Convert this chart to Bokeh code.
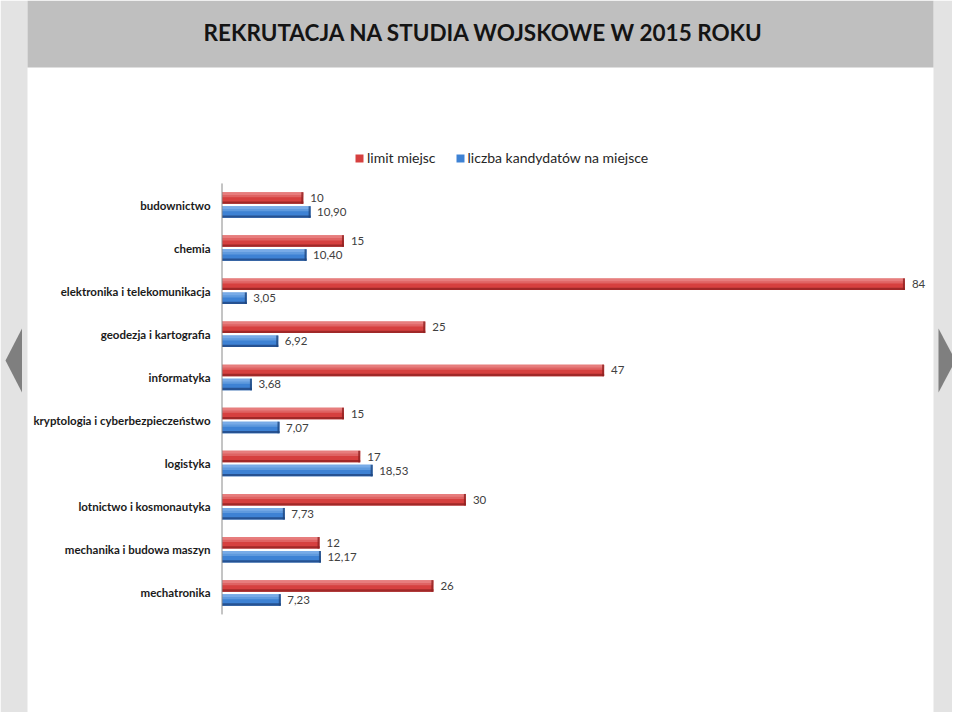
from bokeh.plotting import figure
from bokeh.models import (Range1d, ColumnDataSource, Label, BoxAnnotation,
                          PolyAnnotation, Legend, LegendItem)
from bokeh.core.properties import value
from bokeh.embed import file_html
from bokeh.resources import INLINE

# ---------------- data ----------------
title_text = "REKRUTACJA NA STUDIA WOJSKOWE W 2015 ROKU"
categories = [
    "budownictwo",
    "chemia",
    "elektronika i telekomunikacja",
    "geodezja i kartografia",
    "informatyka",
    "kryptologia i cyberbezpieczeństwo",
    "logistyka",
    "lotnictwo i kosmonautyka",
    "mechanika i budowa maszyn",
    "mechatronika",
]
series_names = ["limit miejsc", "liczba kandydatów na miejsce"]
limit_miejsc = [10, 15, 84, 25, 47, 15, 17, 30, 12, 26]
kandydaci = [10.90, 10.40, 3.05, 6.92, 3.68, 7.07, 18.53, 7.73, 12.17, 7.23]

# ---------------- geometry ----------------
W, H = 952, 712
OFF = 0               # page offset of the canvas
PXU_X = 8.13          # pixels per value unit
AXIS_PX = 221.5 - OFF # canvas x of value 0
PITCH = 43.1          # pixels per category
CAT0_PX = 204.5 - OFF # canvas y (from top) of first category centre

x_start = (0 - AXIS_PX) / PXU_X
x_end = (W - AXIS_PX) / PXU_X
y_start = (H - CAT0_PX) / PITCH      # bottom of canvas
y_end = (0 - CAT0_PX) / PITCH        # top of canvas (reversed axis)

p = figure(width=W, height=H, output_backend="svg", toolbar_location=None,
           x_range=Range1d(x_start, x_end), y_range=Range1d(y_start, y_end),
           x_axis_location=None, y_axis_location=None, min_border=0,
           outline_line_color=None, background_fill_color="white",
           border_fill_color="white")
p.grid.visible = False

# ---------------- decorations (screen units, origin bottom-left) ----------------
def sy(ref_y):
    return H - (ref_y - OFF)

def sx(ref_x):
    return ref_x - OFF

def box(l, r, b, t, color):
    return BoxAnnotation(left=l, right=r, bottom=b, top=t,
                         left_units="screen", right_units="screen",
                         bottom_units="screen", top_units="screen",
                         fill_color=color, fill_alpha=1, line_color=None,
                         level="underlay")

p.add_layout(box(0, sx(27), 0, H, "#e3e3e3"))
p.add_layout(box(sx(933), W, 0, H, "#e3e3e3"))
p.add_layout(box(sx(27), sx(933), sy(67), H, "#bfbfbf"))
p.add_layout(PolyAnnotation(xs=[sx(5), sx(21.5), sx(21.5)], ys=[sy(360), sy(328), sy(392)],
                            xs_units="screen", ys_units="screen",
                            fill_color="#7f7f7f", fill_alpha=1, line_color=None))
p.add_layout(PolyAnnotation(xs=[sx(955), sx(938), sx(938)], ys=[sy(360), sy(328), sy(392)],
                            xs_units="screen", ys_units="screen",
                            fill_color="#7f7f7f", fill_alpha=1, line_color=None))

p.add_layout(Label(x=sx(483.5), y=sy(32), x_units="screen", y_units="screen",
                   text=title_text, text_align="center", text_baseline="middle",
                   text_font="Lato", text_font_style="bold", text_font_size="22.5px",
                   text_color="#141414"))

# ---------------- bars ----------------
n = len(categories)
idx = list(range(n))
off = 7.0 / PITCH
bh = 11.5 / PITCH
cap = 2.0 / PXU_X

red_y = [i - off for i in idx]
blue_y = [i + off for i in idx]

styles = [
    (limit_miejsc, red_y, "#d6403f", "#ec8f90", "#a02828", "#8e2020"),
    (kandydaci, blue_y, "#3e82d4", "#88b8ec", "#265292", "#1f467d"),
]
main_renderers = []
for vals, ys, mid, light, dark, capc in styles:
    src = ColumnDataSource(dict(y=ys, right=vals))
    r = p.hbar(y="y", left=0, right="right", height=bh, source=src,
               fill_color=mid, line_color=None)
    main_renderers.append(r)
    # top highlight (two steps for a softer gradient)
    p.hbar(y=[y - bh / 2 + bh * 0.22 for y in ys], left=0, right=vals,
           height=bh * 0.44, fill_color=light, fill_alpha=0.45, line_color=None)
    p.hbar(y=[y - bh / 2 + bh * 0.12 for y in ys], left=0, right=vals,
           height=bh * 0.24, fill_color=light, fill_alpha=0.6, line_color=None)
    # bottom shadow
    p.hbar(y=[y + bh / 2 - bh * 0.1 for y in ys], left=0, right=vals,
           height=bh * 0.2, fill_color=dark, line_color=None)
    # right end cap
    p.hbar(y=ys, left=[v - cap for v in vals], right=vals, height=bh,
           fill_color=capc, fill_alpha=0.8, line_color=None)

# axis line
p.segment(x0=[0], y0=[-0.5], x1=[0], y1=[n - 0.5], line_color="#8a8a8a", line_width=1)

# category labels
p.text(x=[0] * n, y=idx, text=categories, x_offset=-11.5, text_align="right",
       text_baseline="middle", text_font=value("Lato"), text_font_style="bold",
       text_font_size="11.5px", text_color="#1a1a1a")

# value labels
p.text(x=limit_miejsc, y=red_y, text=[f"{v:d}" for v in limit_miejsc], x_offset=7,
       text_align="left", text_baseline="middle", text_font=value("Lato"),
       text_font_size="11.5px", text_color="#404040")
p.text(x=kandydaci, y=blue_y, text=[f"{v:.2f}".replace(".", ",") for v in kandydaci],
       x_offset=6.5, text_align="left", text_baseline="middle", text_font=value("Lato"),
       text_font_size="11.5px", text_color="#404040")

# legend
legend = Legend(items=[LegendItem(label=series_names[0], renderers=[main_renderers[0]]),
                       LegendItem(label=series_names[1], renderers=[main_renderers[1]])],
                orientation="horizontal", location=(sx(354), sy(166)),
                glyph_width=10, glyph_height=10, label_standoff=3, spacing=19,
                padding=0, margin=0, border_line_color=None,
                background_fill_alpha=0, label_text_font="Lato",
                label_text_font_size="14px", label_text_color="#262626")
p.add_layout(legend, "center")

open("out.html", "w").write(file_html(p, INLINE))
